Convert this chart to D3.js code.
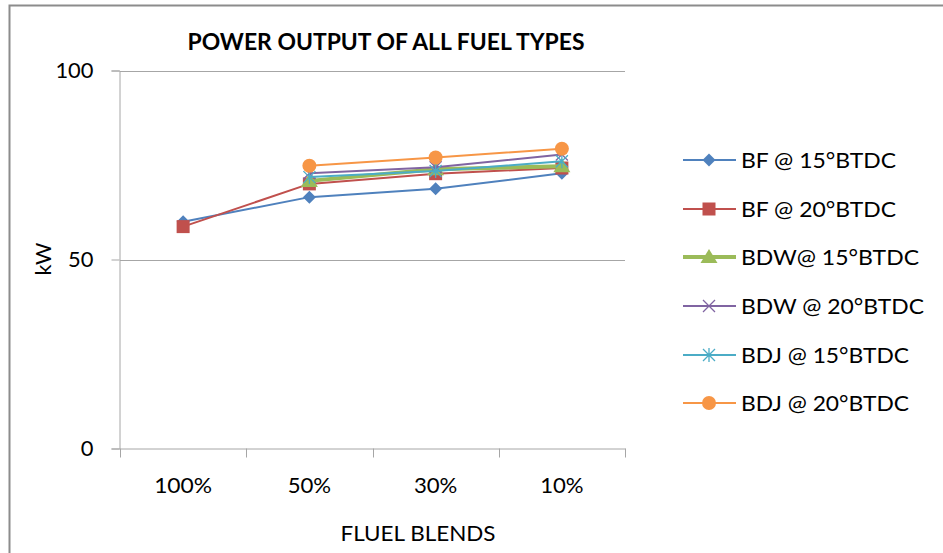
<!DOCTYPE html>
<html>
<head>
<meta charset="utf-8">
<script src="https://cdn.jsdelivr.net/npm/d3@7"></script>
<style>
  html, body { margin: 0; padding: 0; background: #fff; }
  svg { display: block; }
  text { font-family: Lato, "Open Sans", "Liberation Sans", sans-serif; fill: #000; }
</style>
</head>
<body>
<svg id="chart" width="943" height="553"></svg>
<script>
// ---- data ----
const categories = ["100%", "50%", "30%", "10%"];
const seriesNames = ["BF @ 15°BTDC", "BF @ 20°BTDC", "BDW@ 15°BTDC", "BDW @ 20°BTDC", "BDJ @ 15°BTDC", "BDJ @ 20°BTDC"];
const bf15  = [60.0, 66.5, 68.7, 72.8];
const bf20  = [58.7, 70.0, 72.7, 74.2];
const bdw15 = [null, 70.8, 73.9, 74.7];
const bdw20 = [null, 72.8, 74.4, 77.8];
const bdj15 = [null, 71.8, 73.4, 76.0];
const bdj20 = [null, 74.8, 77.0, 79.3];
const yTicks = [0, 50, 100];
const title = "POWER OUTPUT OF ALL FUEL TYPES";
const xTitle = "FLUEL BLENDS";
const yTitle = "kW";

const seriesValues = [bf15, bf20, bdw15, bdw20, bdj15, bdj20];
const colors = ["#4F81BD", "#C0504D", "#9BBB59", "#8064A2", "#4BACC6", "#F79646"];
const markers = ["diamond", "square", "triangle", "x", "star", "circle"];
const widths = [2, 2, 4, 2, 2, 2];
const legendTextWidths = [155, 155, 178, 183, 168, 168];

const svg = d3.select("#chart");
const FS = 21;

// outer border
svg.append("path")
  .attr("d", "M9.5,553 L9.5,5.5 L943,5.5")
  .attr("fill", "none").attr("stroke", "#8c8c8c").attr("stroke-width", 2);

const x = d3.scaleBand().domain(categories).range([120, 625]).padding(0);
const y = d3.scaleLinear().domain([0, 100]).range([448.5, 70.5]);

// gridlines
svg.append("g").selectAll("line").data(yTicks.filter(d => d > 0)).join("line")
  .attr("x1", 120).attr("x2", 625)
  .attr("y1", d => Math.round(y(d)) + 0.5).attr("y2", d => Math.round(y(d)) + 0.5)
  .attr("stroke", "#a6a6a6").attr("stroke-width", 1);

// y axis
const yAxis = d3.axisLeft(y).tickValues(yTicks).tickSize(8).tickPadding(10).tickFormat(d3.format("d"));
const yg = svg.append("g").attr("transform", "translate(119.5,0)").call(yAxis);
yg.select(".domain").attr("stroke", "#a6a6a6");
yg.selectAll(".tick line").attr("stroke", "#a6a6a6");
yg.selectAll(".tick text").attr("font-size", 22).attr("font-family", "Lato, 'Open Sans', sans-serif")
  .attr("fill", "#000").attr("x", -26).attr("dy", "0.33em")
  .attr("textLength", d => String(d).length * 12.7).attr("lengthAdjust", "spacingAndGlyphs");

// x axis
const xAxis = d3.axisBottom(x).tickSize(0).tickPadding(30);
const xg = svg.append("g").attr("transform", "translate(0,448.5)").call(xAxis);
xg.select(".domain").attr("stroke", "#a6a6a6");
xg.selectAll(".tick text").attr("font-size", FS).attr("font-family", "Lato, 'Open Sans', sans-serif")
  .attr("fill", "#000").attr("textLength", d => d.length * 14.5).attr("lengthAdjust", "spacingAndGlyphs");
// boundary tick marks
const bounds = categories.map(c => x(c)).concat([x(categories[categories.length - 1]) + x.bandwidth()]);
xg.selectAll("line.bt").data(bounds).join("line").attr("class", "bt")
  .attr("x1", d => Math.round(d) + 0.5).attr("x2", d => Math.round(d) + 0.5)
  .attr("y1", 0).attr("y2", 9).attr("stroke", "#a6a6a6");

// titles
svg.append("text").attr("x", 386).attr("y", 50).attr("text-anchor", "middle")
  .attr("font-size", 22).attr("font-weight", "bold")
  .attr("textLength", 397).attr("lengthAdjust", "spacingAndGlyphs").text(title);
svg.append("text").attr("x", 418).attr("y", 541).attr("text-anchor", "middle")
  .attr("font-size", FS).attr("textLength", 155).attr("lengthAdjust", "spacingAndGlyphs").text(xTitle);
svg.append("text").attr("transform", "translate(51,259) rotate(-90)").attr("text-anchor", "middle")
  .attr("font-size", 22).attr("textLength", 33).attr("lengthAdjust", "spacingAndGlyphs").text(yTitle);

// marker drawing
function drawMarker(g, type, color) {
  if (type === "diamond") {
    g.append("path").attr("d", "M0,-6.5 L6.5,0 L0,6.5 L-6.5,0 Z").attr("fill", color);
  } else if (type === "square") {
    g.append("rect").attr("x", -6.5).attr("y", -6.5).attr("width", 13).attr("height", 13).attr("fill", color);
  } else if (type === "triangle") {
    g.append("path").attr("d", "M0,-8 L8.5,6 L-8.5,6 Z").attr("fill", color);
  } else if (type === "x") {
    g.append("path").attr("d", "M-6,-6 L6,6 M-6,6 L6,-6").attr("stroke", color).attr("stroke-width", 1.3);
  } else if (type === "star") {
    g.append("path").attr("d", "M-6,-6 L6,6 M-6,6 L6,-6 M0,-7 L0,7").attr("stroke", color).attr("stroke-width", 1.3);
  } else if (type === "circle") {
    g.append("circle").attr("r", 7).attr("fill", color);
  }
}

const cx = c => x(c) + x.bandwidth() / 2;
const line = d3.line().defined(d => d.v != null).x(d => cx(d.c)).y(d => y(d.v));

seriesValues.forEach((vals, i) => {
  const pts = categories.map((c, j) => ({ c, v: vals[j] }));
  svg.append("path").datum(pts).attr("d", line)
    .attr("fill", "none").attr("stroke", colors[i]).attr("stroke-width", widths[i])
    .attr("stroke-linejoin", "round");
  pts.filter(d => d.v != null).forEach(d => {
    const g = svg.append("g").attr("transform", `translate(${cx(d.c)},${y(d.v)})`);
    drawMarker(g, markers[i], colors[i]);
  });
});

// legend
const legendY = [160, 209, 257, 306, 355, 403];
seriesNames.forEach((name, i) => {
  const g = svg.append("g").attr("transform", `translate(0,${legendY[i]})`);
  g.append("line").attr("x1", 683).attr("x2", 736).attr("y1", 0).attr("y2", 0)
    .attr("stroke", colors[i]).attr("stroke-width", widths[i]);
  const m = g.append("g").attr("transform", "translate(709,0)");
  drawMarker(m, markers[i], colors[i]);
  g.append("text").attr("x", 741).attr("y", 8).attr("font-size", FS)
    .attr("textLength", legendTextWidths[i]).attr("lengthAdjust", "spacingAndGlyphs").text(name);
});
</script>
</body>
</html>
